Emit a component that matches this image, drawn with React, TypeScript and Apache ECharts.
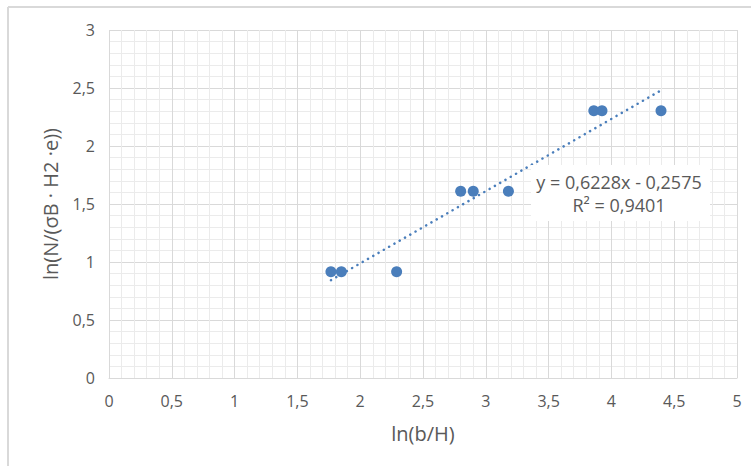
import React, { useEffect, useRef } from "react";
import * as echarts from "echarts";

const xValues = [1.767, 1.85, 2.29, 2.8, 2.9, 3.18, 3.86, 3.925, 4.395];
const yValues = [0.916, 0.916, 0.916, 1.609, 1.609, 1.609, 2.303, 2.303, 2.303];
const slope = 0.6228;
const intercept = -0.2575;
const rSquared = "0,9401";
const trendRange = [1.767, 4.395];
const xTicks = { min: 0, max: 5, interval: 0.5 };
const yTicks = { min: 0, max: 3, interval: 0.5 };

const fmt = (v: number) => String(v).replace(".", ",");
const FONT = "'Open Sans', 'Noto Sans', sans-serif";
const TXT = "#595959";

export default function App() {
  const ref = useRef<HTMLDivElement>(null);
  useEffect(() => {
    if (!ref.current) return;
    const chart = echarts.init(ref.current, undefined, { renderer: "svg" });
    const points = xValues.map((x, i) => [x, yValues[i]]);
    const trend = trendRange.map((x) => [x, slope * x + intercept]);
    const axisCommon = {
      type: "value" as const,
      axisTick: { show: false },
      minorTick: { show: false, splitNumber: 5 },
      splitLine: { show: true, lineStyle: { color: "#d9d9d9", width: 1 } },
      minorSplitLine: { show: true, lineStyle: { color: "#ebebeb", width: 1 } },
      nameTextStyle: { color: TXT, fontSize: 20, fontFamily: FONT },
    };
    chart.setOption({
      animation: false,
      backgroundColor: "#ffffff",
      grid: { left: 109, right: 14, top: 30, bottom: 88 },
      xAxis: {
        ...axisCommon,
        ...xTicks,
        name: "ln(b/H)",
        nameLocation: "middle",
        nameGap: 45,
        axisLine: { show: true, lineStyle: { color: "#d9d9d9", width: 1 } },
        axisLabel: { color: TXT, fontSize: 16, fontFamily: FONT, margin: 15, formatter: fmt },
      },
      yAxis: {
        ...axisCommon,
        ...yTicks,
        name: "ln(N/(σB · H2 ·e))",
        nameLocation: "middle",
        nameGap: 49,
        axisLine: { show: false },
        axisLabel: { color: TXT, fontSize: 16, fontFamily: FONT, margin: 14, formatter: fmt },
      },
      graphic: [
        { type: "line", shape: { x1: 8, y1: 7, x2: 751, y2: 7 }, style: { stroke: "#d9d9d9", lineWidth: 2 } },
        { type: "line", shape: { x1: 8, y1: 7, x2: 8, y2: 466 }, style: { stroke: "#d9d9d9", lineWidth: 2 } },
        { type: "rect", z: 100, shape: { x: 531, y: 165, width: 179, height: 56 }, style: { fill: "#ffffff" } },
        {
          type: "text",
          z: 101,
          x: 619,
          y: 182,
          style: {
            text: `y = ${fmt(slope)}x - ${fmt(Math.abs(intercept))}`,
            fill: TXT,
            font: `18px ${FONT}`,
            align: "center",
            verticalAlign: "middle",
          },
        },
        {
          type: "text",
          z: 101,
          x: 619,
          y: 205,
          style: {
            text: `R² = ${rSquared}`,
            fill: TXT,
            font: `18px ${FONT}`,
            align: "center",
            verticalAlign: "middle",
          },
        },
      ],
      series: [
        {
          type: "line",
          data: trend,
          symbol: "none",
          z: 3,
          lineStyle: { color: "#4a7ebb", width: 2.5, type: [0.1, 6], cap: "round" },
        },
        {
          type: "scatter",
          data: points,
          symbolSize: 11,
          z: 4,
          itemStyle: { color: "#4a7ebb", opacity: 1 },
        },
      ],
    });
    return () => chart.dispose();
  }, []);
  return (
    <div
      ref={ref}
      style={{ position: "fixed", left: 0, top: 0, width: 751, height: 466, background: "#fff" }}
    />
  );
}
